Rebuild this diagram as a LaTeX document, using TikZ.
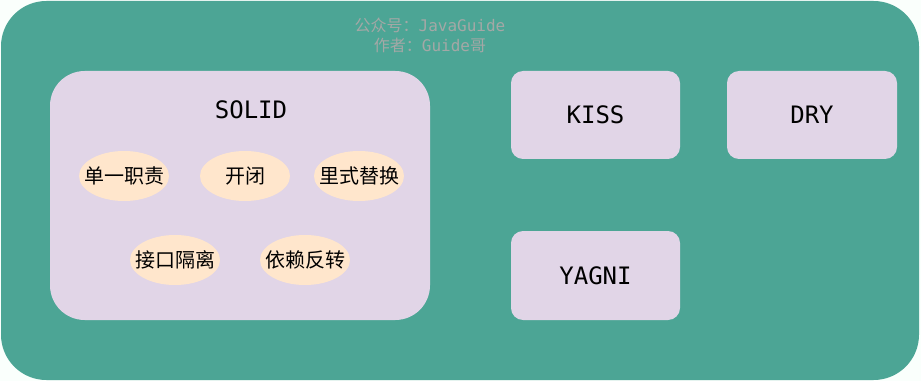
\documentclass[tikz,border=0pt]{standalone}
\usepackage{fontspec}
\setmonofont{DejaVu Sans Mono}
\newfontfamily\cjk{Noto Sans CJK SC}
\definecolor{teal1}{HTML}{4CA595}
\definecolor{lav}{HTML}{E1D5E7}
\definecolor{peach}{HTML}{FFE6CC}
\definecolor{wm}{HTML}{A4A8A6}
\definecolor{bgw}{HTML}{FAFFFC}
\tikzset{
  pill/.style={inner sep=0pt, font=\cjk\fontsize{15}{17}\selectfont, text=black},
  title/.style={font=\ttfamily\fontsize{18}{21}\selectfont, text=black},
  wmtext/.style={font=\fontsize{12}{14}\selectfont, text=wm},
}
\newcommand{\pillbg}[1]{\fill[peach] (#1.center) ellipse (45 and 25);}
\begin{document}
\begin{tikzpicture}[x=0.75pt,y=-0.75pt]
\useasboundingbox (0,0) rectangle (921,381);
\fill[bgw] (0,0) rectangle (921,381);
\fill[teal1, rounded corners=34pt] (1,1) rectangle (919,380);
\node[wmtext] (wm1) at (430,25) {{\cjk 公众号：}\ttfamily JavaGuide};
\node[wmtext] (wm2) at (430,45) {{\cjk 作者：}\ttfamily Guide{\cjk 哥}};
\fill[lav, rounded corners=26pt] (50,71) rectangle (430,320);
\node[title] (solid) at (251,110) {SOLID};
\coordinate (c1) at (124,176);
\coordinate (c2) at (245,176);
\coordinate (c3) at (359,176);
\coordinate (c4) at (175,260);
\coordinate (c5) at (305,260);
\pillbg{c1}\pillbg{c2}\pillbg{c3}\pillbg{c4}\pillbg{c5}
\node[pill] (p1) at (c1) {单一职责};
\node[pill] (p2) at (c2) {开闭};
\node[pill] (p3) at (c3) {里式替换};
\node[pill] (p4) at (c4) {接口隔离};
\node[pill] (p5) at (c5) {依赖反转};
\fill[lav, rounded corners=9pt] (511,71) rectangle (680,159);
\node[title] (kiss) at (595.5,115) {KISS};
\fill[lav, rounded corners=9pt] (727,71) rectangle (897,159);
\node[title] (dry) at (812,115) {DRY};
\fill[lav, rounded corners=9pt] (511,231) rectangle (680,320);
\node[title] (yagni) at (595.5,275.5) {YAGNI};
\end{tikzpicture}
\end{document}
